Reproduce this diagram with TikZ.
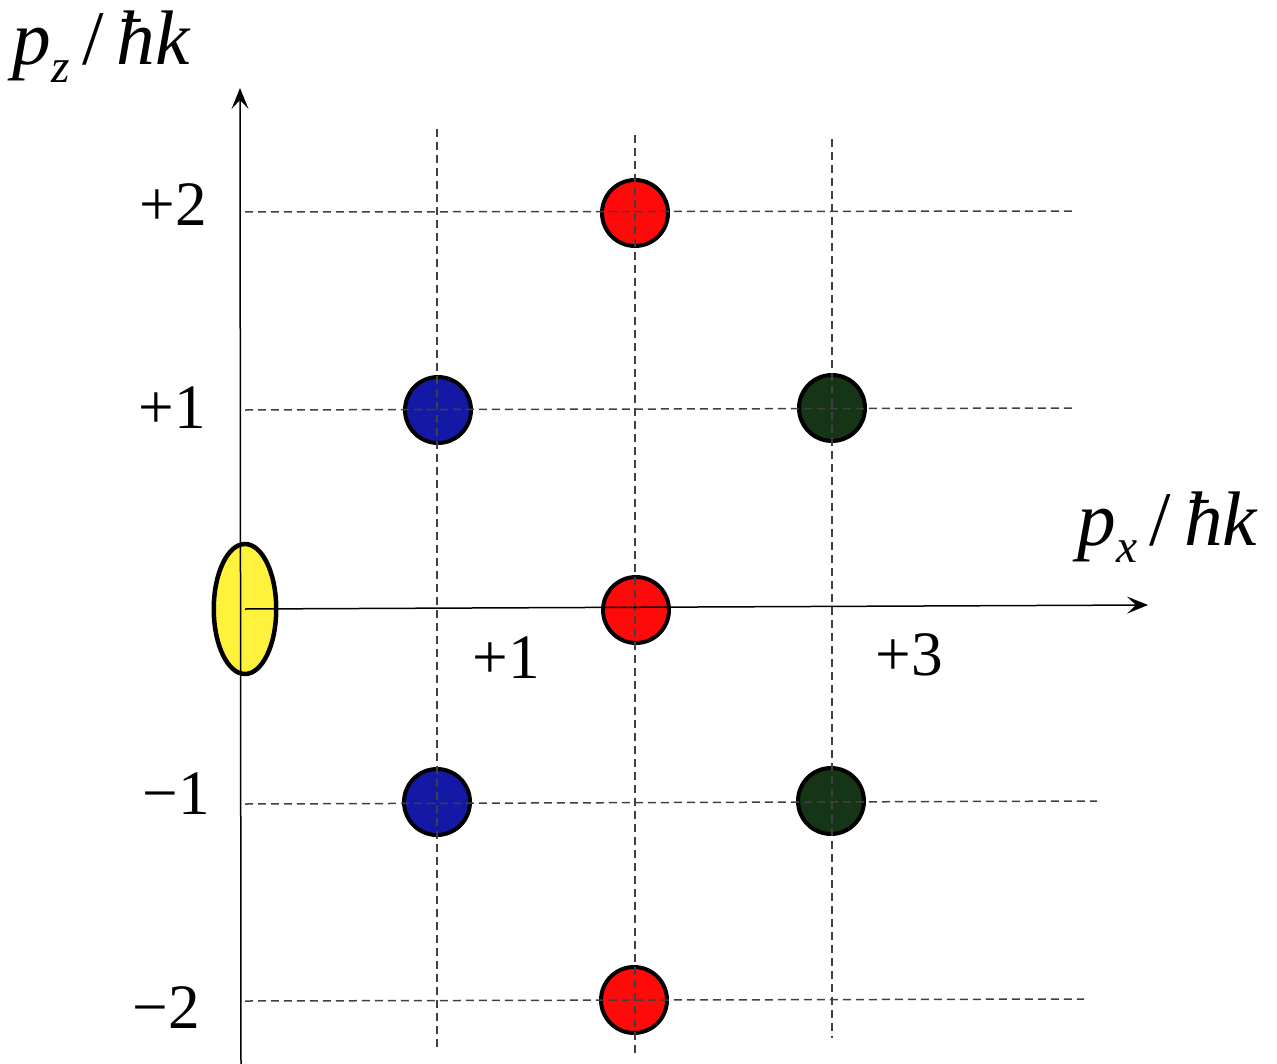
\documentclass[tikz,border=0pt]{standalone}
\usepackage{fontspec}
\setmainfont{Liberation Serif}
\usepackage{tikz}
\usetikzlibrary{positioning}
\usetikzlibrary{calc,shapes.geometric,arrows.meta}

\definecolor{dotred}{RGB}{255,10,10}
\definecolor{dotblue}{RGB}{20,25,165}
\definecolor{dotgreen}{RGB}{22,52,22}
\definecolor{dotyellow}{RGB}{255,242,60}

\begin{document}
\begin{tikzpicture}[x=0.02cm, y=-0.02cm,
Dnode/.style={circle, draw=black, line width=0.08cm, minimum size=1.32cm, inner sep=0pt},
Ynode/.style={ellipse, draw=black, line width=0.09cm, fill=dotyellow, minimum width=1.25cm, minimum height=2.6cm, inner sep=0pt},
Tnode/.style={inner sep=0pt, font=\rmfamily\fontsize{36}{40}\selectfont},
Anode/.style={inner sep=0pt, anchor=base west, font=\rmfamily\fontsize{44}{50}\selectfont},
grid/.style={dashed, dash pattern=on 0.16cm off 0.1cm, line width=0.03cm, black!75},
axis/.style={line width=0.03cm, -{Stealth[length=0.42cm, width=0.34cm, inset=0.18cm]}}
]
\useasboundingbox (0,0) rectangle (1277,1064);

%Nodes
\node[Ynode] (Y0) at (245,609) {};
\node[Dnode, fill=dotred] (R1) at (635,213) {};
\node[Dnode, fill=dotred] (R0) at (636,610) {};
\node[Dnode, fill=dotred] (R2) at (634,1000) {};
\node[Dnode, fill=dotblue] (B1) at (438,410) {};
\node[Dnode, fill=dotblue] (B2) at (437,802) {};
\node[Dnode, fill=dotgreen] (G1) at (832,408) {};
\node[Dnode, fill=dotgreen] (G2) at (831,801) {};

%Grid ends
\coordinate (H2a) at (245,212);  \coordinate (H2b) at (1072,211);
\coordinate (H1a) at (245,410);  \coordinate (H1b) at (1072,408);
\coordinate (Hm1a) at (245,804); \coordinate (Hm1b) at (1097,801);
\coordinate (Hm2a) at (245,1001);\coordinate (Hm2b) at (1084,999);
\coordinate (V1a) at (437,129);  \coordinate (V1b) at (437,1047);
\coordinate (V2a) at (635,135);  \coordinate (V2b) at (635,1053);
\coordinate (V3a) at (832,139);  \coordinate (V3b) at (832,1038);

%Axis ends
\coordinate (Zlow) at (241,1064);
\coordinate (Ztop) at (240,88);
\coordinate (Xend) at (1148,605);

%Lines
\draw[grid] (H2a) -- (H2b);
\draw[grid] (H1a) -- (H1b);
\draw[grid] (Hm1a) -- (Hm1b);
\draw[grid] (Hm2a) -- (Hm2b);
\draw[grid] (V1a) -- (V1b);
\draw[grid] (V2a) -- (V2b);
\draw[grid] (V3a) -- (V3b);

\draw[axis] (Zlow) -- (Ztop);
\draw[axis] (Y0.center) -- (Xend);

%Labels
\node[Tnode] (Lz2) at (173,205) {+2};
\node[Tnode] (Lz1) at (172,408) {+1};
\node[Tnode] (Lzm1) at (176,794) {−1};
\node[Tnode] (Lzm2) at (166,1008) {−2};
\node[Tnode] (Lx1) at (506,658) {+1};
\node[Tnode] (Lx3) at (909,655) {+3};

\node[Anode] (Pz) at (12,65) {\textit{p}\raisebox{-10pt}{\fontsize{27}{27}\selectfont\textit{z}}\,/\,\textit{ħk}};
\node[Anode] (Px) at (1077,545) {\textit{p}\raisebox{-10pt}{\fontsize{27}{27}\selectfont\textit{x}}\,/\,\textit{ħk}};
\end{tikzpicture}
\end{document}
